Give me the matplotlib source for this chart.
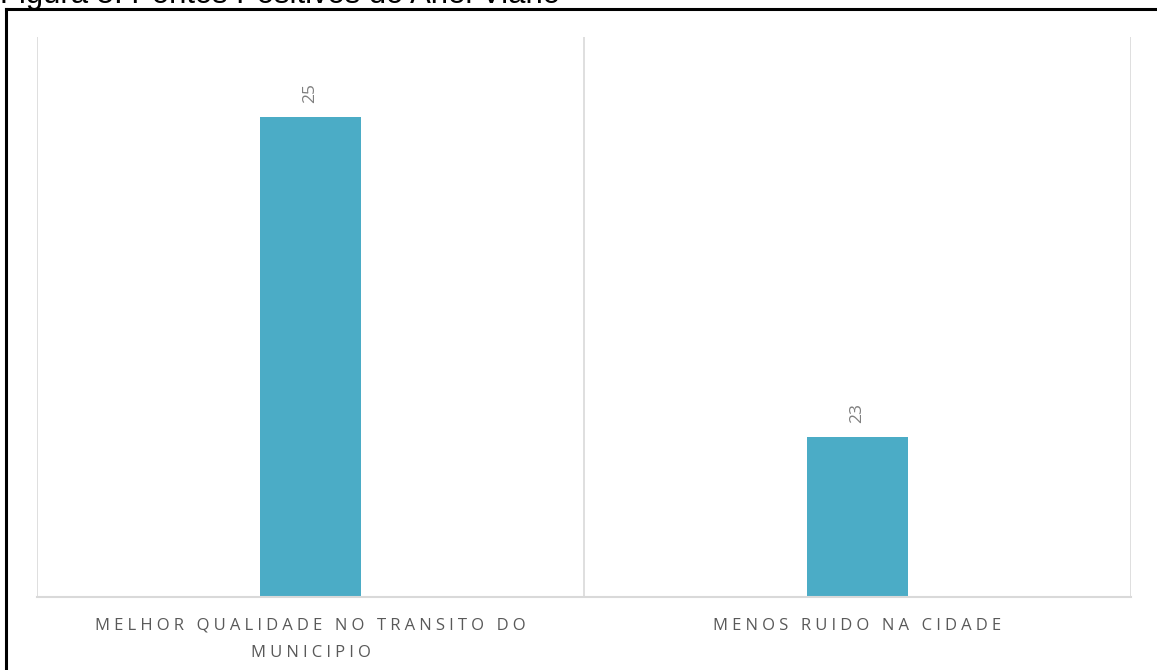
import matplotlib.pyplot as plt
from matplotlib.lines import Line2D

categories = ["MELHOR QUALIDADE NO TRANSITO DO\nMUNICIPIO", "MENOS RUIDO NA CIDADE"]
values = [25, 23]
title = "Figura 5: Pontos Positivos do Anel Viário"

bar_color = "#4BACC6"
grid_color = "#d9d9d9"

def spaced(s):
    # Excel-like letter spacing
    return "\n".join("\u2005".join(line) for line in s.split("\n"))

fig = plt.figure(figsize=(11.57, 6.70), dpi=100)
ax = fig.add_axes([37/1157, 73/670, (1131-37)/1157, (597-37)/670])

x = range(len(categories))
ax.bar(x, values, width=0.183, color=bar_color, zorder=2)
ax.set_xlim(-0.5, len(categories) - 0.5)
ax.set_ylim(22, 25.5)

for b in [i - 0.5 for i in range(len(categories) + 1)]:
    ax.axvline(b, color=grid_color, lw=1.2, zorder=1)

for s in ["top", "left", "right"]:
    ax.spines[s].set_visible(False)
ax.spines["bottom"].set_color(grid_color)
ax.spines["bottom"].set_linewidth(1.5)
ax.set_yticks([])
ax.set_xticks(list(x))
ax.set_xticklabels([spaced(c) for c in categories], fontsize=12, color="#595959",
                   family=["Open Sans", "DejaVu Sans"], linespacing=1.9)
ax.tick_params(axis="x", length=0, pad=15)

for i, v in enumerate(values):
    ax.annotate(str(v), (i, v), xytext=(0, 10), textcoords="offset points",
                rotation=90, ha="center", va="bottom", fontsize=12.5, color="#7f7f7f",
                family=["Open Sans", "DejaVu Sans"])

# figure frame and cut-off caption
fig.add_artist(Line2D([6/1157, 1], [661/670, 661/670], color="black", lw=2.2,
                      transform=fig.transFigure))
fig.add_artist(Line2D([6/1157, 6/1157], [0, 661/670], color="black", lw=2.2,
                      transform=fig.transFigure))
fig.text(0, 667/670, title, fontsize=22.3, family="Liberation Sans", color="black",
         ha="left", va="baseline")

fig.savefig("out.png", dpi=100)
